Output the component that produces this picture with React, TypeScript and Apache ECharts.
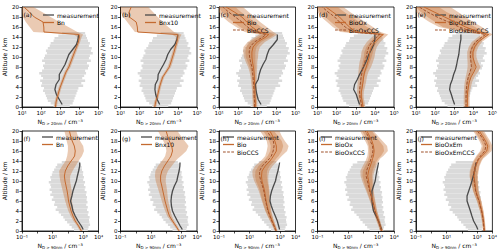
import React, { useEffect, useRef } from "react";
import * as echarts from "echarts";

// ---------- altitude levels (km) ----------
const MODEL_ALT = [0, 1, 2, 3, 4, 5, 6, 7, 8, 9, 10, 11, 12, 13, 14, 14.5, 15, 16, 17, 18, 19, 20];
const MEAS_ALT_TOP = [0.5, 1.5, 2.5, 3.5, 4.5, 5.5, 6.5, 7.5, 8.5, 9.5, 10.5, 11.5, 12.5, 13.5, 14.5];
const MEAS_ALT_BOTTOM = [0.3, 1, 2, 3, 4, 5, 6, 7, 8, 9, 10, 11, 12, 13, 13.7];
const SPREAD_ALT_TOP = [0, 0.5, 1, 1.5, 2, 2.5, 3, 3.5, 4, 4.5, 5, 5.5, 6, 6.5, 7, 7.5, 8, 8.5, 9, 9.5, 10, 10.5, 11, 11.5, 12, 12.5, 13, 13.5, 14, 14.5];
const SPREAD_ALT_BOTTOM = [0, 0.5, 1, 1.5, 2, 2.5, 3, 3.5, 4, 4.5, 5, 5.5, 6, 6.5, 7, 7.5, 8, 8.5, 9, 9.5, 10, 10.5, 11, 11.5, 12, 12.5, 13, 13.5];
const SPREAD_BIN = 0.5;

// ---------- measurement spread (grey) ----------
const SPREAD_TOP_LO = [447, 316, 224, 200, 178, 158, 126, 141, 100, 112, 89.1, 126, 100, 79.4, 112, 141, 126, 158, 112, 141, 158, 200, 178, 224, 282, 316, 447, 501, 794, 1260];
const SPREAD_TOP_HI = [3160, 4470, 5010, 5620, 6310, 7080, 7940, 8910, 15800, 12600, 20000, 14100, 17800, 22400, 20000, 28200, 31600, 25100, 39800, 31600, 35500, 50100, 39800, 44700, 31600, 35500, 28200, 25100, 22400, 20000];
const SPREAD_BOT_LO = [251, 178, 126, 89.1, 63.1, 50.1, 35.5, 25.1, 15.8, 20, 12.6, 14.1, 8.91, 11.2, 7.08, 8.91, 6.31, 7.94, 7.08, 5.62, 7.94, 7.08, 8.91, 10, 12.6, 15.8, 20, 39.8];
const SPREAD_BOT_HI = [2000, 2240, 2820, 2510, 2400, 2630, 2000, 2240, 1780, 2000, 1580, 1910, 1660, 1780, 1510, 1660, 1260, 1410, 1120, 1320, 1000, 1120, 955, 1000, 832, 794, 708, 562];

// ---------- measurement medians ----------
const MEAS_A = [1260, 891, 631, 525, 603, 891, 891, 1260, 1780, 2240, 2820, 4470, 7080, 8510, 9120];
const MEAS_B = [1120, 832, 692, 631, 661, 891, 933, 1260, 1780, 2400, 2950, 4170, 6920, 8910, 10000];
const MEAS_C = [1580, 1120, 955, 851, 794, 1120, 1260, 1510, 2000, 2820, 3310, 4170, 7080, 11200, 11200];
const MEAS_D = [1580, 1290, 1070, 776, 871, 1200, 1580, 2190, 2950, 3890, 4790, 6610, 8710, 10000, 10000];
const MEAS_E = [1050, 851, 708, 575, 631, 794, 933, 1170, 1350, 1510, 1740, 1860, 2000, 2240, 2240];
const MEAS_F = [1000, 759, 457, 302, 214, 182, 148, 182, 214, 275, 355, 417, 501, 589, 589];
const MEAS_G = [1100, 794, 525, 355, 251, 214, 200, 214, 251, 331, 479, 562, 676, 759, 776];
const MEAS_H = [912, 794, 646, 479, 347, 263, 214, 229, 275, 363, 490, 575, 708, 832, 912];
const MEAS_I = [1580, 1260, 977, 676, 457, 398, 363, 355, 363, 457, 589, 661, 759, 891, 977];
const MEAS_J = [1120, 891, 589, 457, 363, 282, 219, 219, 282, 363, 457, 562, 692, 794, 832];

// ---------- model profiles, D > 20 nm ----------
const BN_A = [562, 603, 708, 832, 1000, 1260, 1580, 2000, 2820, 3550, 4470, 5620, 7080, 8910, 10000, 9550, 141, 138, 126, 43.7, 24.5, 12.6];
const BN_A_LO = [468, 501, 589, 692, 832, 1050, 1320, 1660, 2290, 2880, 3630, 4570, 5750, 7240, 7940, 5010, 39.8, 25.1, 15.8, 11.2, 10, 10];
const BN_A_HI = [676, 724, 851, 1000, 1200, 1510, 1910, 2400, 3470, 4370, 5500, 6920, 8710, 10960, 13200, 15800, 7940, 2690, 891, 316, 112, 39.8];

const BNX10_B = [617, 692, 832, 955, 1100, 1320, 1620, 2400, 3550, 4370, 5250, 6310, 7410, 8910, 10000, 9550, 79.4, 75.9, 66.1, 28.8, 28.2, 36.3];
const BNX10_B_LO = [513, 575, 692, 794, 912, 1100, 1350, 2000, 2880, 3550, 4270, 5130, 6030, 7240, 7940, 5010, 56.2, 35.5, 22.4, 14.1, 10, 10];
const BNX10_B_HI = [741, 832, 1000, 1150, 1320, 1580, 1950, 2880, 4370, 5370, 6460, 7760, 9120, 10960, 13200, 15800, 6310, 3160, 1580, 891, 501, 282];

const BIO_C = [794, 794, 759, 759, 741, 724, 708, 676, 631, 562, 525, 525, 603, 1000, 2820, 3980, 1260, 525, 282, 158, 63.1, 23.4];
const BIO_C_LO = [631, 631, 603, 603, 575, 550, 525, 479, 398, 316, 251, 240, 263, 417, 1120, 1780, 355, 126, 56.2, 28.2, 14.1, 10];
const BIO_C_HI = [1000, 1000, 955, 955, 955, 955, 955, 955, 1000, 1000, 1100, 1150, 1380, 2510, 7080, 11200, 7080, 3160, 1410, 708, 355, 178];
const BIOCCS_C = [724, 724, 692, 676, 661, 631, 603, 562, 525, 447, 398, 380, 417, 708, 2000, 2820, 794, 316, 158, 70.8, 31.6, 15.8];
const BIOCCS_C_LO = [575, 575, 550, 537, 513, 479, 447, 398, 331, 251, 200, 182, 191, 316, 794, 1260, 224, 79.4, 31.6, 15.8, 10, 10];
const BIOCCS_C_HI = [912, 912, 871, 851, 851, 832, 813, 794, 832, 794, 794, 794, 912, 1580, 5010, 7940, 3980, 1580, 708, 316, 141, 70.8];

const BIOOX_D = [2400, 2190, 1950, 1950, 2190, 2400, 2570, 2880, 3550, 4270, 5010, 5370, 6610, 10000, 18200, 27500, 1070, 468, 251, 141, 63.1, 27.5];
const BIOOX_D_LO = [1820, 1660, 1480, 1450, 1580, 1660, 1740, 1820, 2000, 2290, 2630, 2820, 3550, 5620, 10000, 15800, 251, 100, 50.1, 25.1, 12.6, 10];
const BIOOX_D_HI = [3160, 2880, 2570, 2630, 3020, 3470, 3800, 4570, 6310, 7940, 9550, 10500, 12600, 19100, 35500, 50100, 20000, 7940, 3160, 1260, 501, 224];
const BIOOXCCS_D = [2090, 1860, 1660, 1580, 1660, 1780, 1910, 2140, 2510, 2950, 3550, 3980, 4790, 7080, 12600, 17800, 708, 282, 141, 79.4, 35.5, 17.8];
const BIOOXCCS_D_LO = [1580, 1410, 1260, 1170, 1200, 1260, 1320, 1380, 1450, 1580, 1860, 2000, 2510, 3800, 7080, 10000, 158, 63.1, 31.6, 15.8, 10, 10];
const BIOOXCCS_D_HI = [2750, 2450, 2190, 2140, 2290, 2510, 2750, 3310, 4370, 5500, 6760, 7940, 9120, 13200, 22400, 31600, 11200, 3980, 1580, 631, 251, 112];

const BIOOXEM_E = [4900, 4900, 4900, 5010, 5500, 6170, 7590, 10700, 14100, 11200, 9550, 9550, 11700, 17800, 39800, 63100, 20000, 3980, 1120, 316, 89.1, 26.3];
const BIOOXEM_E_LO = [3720, 3720, 3720, 3800, 3980, 4370, 5010, 6610, 8320, 7080, 6310, 6310, 7590, 11200, 25100, 35500, 3980, 251, 100, 39.8, 17.8, 10];
const BIOOXEM_E_HI = [6460, 6460, 6460, 6610, 7590, 8710, 11500, 17400, 24000, 17800, 14500, 14500, 18200, 28200, 63100, 100000, 63100, 28200, 10000, 3980, 1580, 631];
const BIOOXEMCCS_E = [4170, 4170, 4170, 4270, 4470, 4790, 5500, 6760, 7940, 7590, 7080, 7240, 8910, 13200, 28200, 44700, 10000, 1860, 501, 126, 39.8, 14.8];
const BIOOXEMCCS_E_LO = [3160, 3160, 3160, 3240, 3310, 3550, 3980, 4570, 5010, 5010, 4790, 4790, 5750, 8320, 17800, 26300, 2510, 158, 50.1, 20, 10, 10];
const BIOOXEMCCS_E_HI = [5500, 5500, 5500, 5620, 6030, 6460, 7590, 10000, 12600, 11500, 10500, 11000, 13800, 20900, 44700, 70800, 35500, 12600, 3980, 1260, 398, 158];

// ---------- model profiles, D > 90 nm ----------
const BN_F = [759, 501, 302, 214, 162, 132, 110, 100, 89.1, 75.9, 64.6, 58.9, 67.6, 97.7, 162, 214, 275, 302, 263, 191, 151, 126];
const BN_F_LO = [603, 398, 229, 151, 107, 83.2, 66.1, 55, 45.7, 38, 31.6, 28.2, 26.9, 41.7, 70.8, 79.4, 89.1, 100, 100, 83.2, 70.8, 58.9];
const BN_F_HI = [955, 631, 398, 302, 240, 209, 182, 182, 178, 158, 138, 141, 200, 316, 501, 631, 832, 1120, 1000, 631, 447, 355];

const BNX10_G = [676, 417, 251, 158, 123, 100, 81.3, 69.2, 58.9, 50.1, 41.7, 41.7, 50.1, 74.1, 123, 158, 200, 251, 224, 155, 120, 95.5];
const BNX10_G_LO = [562, 331, 191, 112, 83.2, 63.1, 50.1, 39.8, 31.6, 25.1, 20, 17.8, 19.1, 28.2, 50.1, 66.1, 83.2, 100, 89.1, 63.1, 41.7, 28.2];
const BNX10_G_HI = [813, 525, 331, 229, 186, 158, 132, 120, 112, 100, 89.1, 95.5, 126, 224, 398, 562, 891, 2000, 2820, 1580, 891, 525];

const BIO_H = [562, 417, 302, 224, 170, 141, 120, 107, 95.5, 79.4, 64.6, 60.3, 64.6, 105, 214, 282, 363, 562, 562, 447, 316, 214];
const BIO_H_LO = [468, 331, 229, 158, 112, 87.1, 69.2, 57.5, 47.9, 36.3, 26.3, 22.9, 24, 38, 83.2, 112, 151, 224, 240, 191, 126, 79.4];
const BIO_H_HI = [676, 525, 398, 316, 263, 240, 219, 209, 200, 182, 166, 166, 191, 316, 631, 891, 1260, 2820, 3550, 2000, 1260, 891];
const BIOCCS_H = [525, 389, 282, 209, 158, 132, 112, 97.7, 85.1, 69.2, 53.7, 45.7, 44.7, 66.1, 141, 200, 263, 347, 398, 355, 224, 135];
const BIOCCS_H_LO = [437, 309, 214, 148, 105, 81.3, 63.1, 50.1, 39.8, 28.8, 20, 15.8, 15.1, 22.9, 52.5, 75.9, 105, 132, 151, 132, 79.4, 47.9];
const BIOCCS_H_HI = [631, 490, 372, 295, 240, 214, 200, 191, 182, 166, 145, 132, 138, 200, 417, 562, 794, 1260, 1580, 1260, 708, 398];

const BIOOX_I = [1580, 1260, 977, 759, 589, 501, 417, 339, 282, 245, 219, 191, 219, 282, 363, 398, 457, 501, 457, 363, 251, 170];
const BIOOX_I_LO = [1260, 1000, 759, 575, 437, 363, 288, 224, 174, 132, 105, 87.1, 91.2, 132, 191, 214, 240, 251, 229, 182, 126, 83.2];
const BIOOX_I_HI = [2000, 1580, 1260, 1000, 794, 692, 603, 525, 479, 457, 457, 437, 525, 708, 1000, 1260, 2000, 3980, 3550, 1780, 891, 447];
const BIOOXCCS_I = [1510, 1200, 933, 724, 562, 468, 389, 316, 257, 214, 182, 151, 158, 209, 282, 316, 363, 417, 398, 282, 200, 132];
const BIOOXCCS_I_LO = [1200, 955, 724, 550, 417, 339, 263, 200, 151, 110, 83.2, 66.1, 63.1, 91.2, 138, 158, 182, 200, 191, 132, 89.1, 60.3];
const BIOOXCCS_I_HI = [1910, 1510, 1200, 955, 759, 646, 562, 479, 427, 398, 380, 355, 398, 525, 759, 955, 1410, 2240, 2000, 1120, 631, 355];

const BIOOXEM_J = [3020, 2820, 2630, 2340, 2040, 1660, 1380, 1050, 832, 759, 692, 631, 692, 832, 1120, 1410, 2000, 4270, 5010, 3550, 2240, 1380];
const BIOOXEM_J_LO = [2510, 2340, 2140, 1860, 1580, 1260, 1000, 741, 562, 479, 398, 347, 380, 479, 631, 794, 1000, 2000, 2510, 1780, 1120, 708];
const BIOOXEM_J_HI = [3630, 3470, 3240, 2950, 2630, 2240, 1910, 1510, 1260, 1200, 1150, 1120, 1260, 1450, 2000, 2510, 3980, 8910, 10000, 7080, 4470, 2820];
const BIOOXEMCCS_J = [2880, 2690, 2510, 2240, 1950, 1580, 1320, 1000, 794, 708, 631, 575, 631, 759, 1000, 1260, 1660, 3160, 3800, 2820, 1780, 1050];
const BIOOXEMCCS_J_LO = [2400, 2240, 2040, 1780, 1510, 1200, 955, 708, 537, 447, 363, 316, 331, 417, 550, 692, 871, 1580, 2000, 1410, 891, 550];
const BIOOXEMCCS_J_HI = [3470, 3310, 3090, 2820, 2510, 2140, 1820, 1450, 1200, 1120, 1050, 1000, 1150, 1320, 1780, 2240, 3160, 6310, 7080, 5250, 3550, 2090];

// ---------- axes ----------
const TOP_TICK_EXP = [1, 2, 3, 4, 5];
const BOTTOM_TICK_EXP = [-1, 1, 3, 4];
const ALT_TICKS = [0, 2, 4, 6, 8, 10, 12, 14, 16, 18, 20];
const X_NAME_TOP = "N{s|D > 20nm} / cm⁻³";
const X_NAME_BOTTOM = "N{s|D > 90nm} / cm⁻³";
const Y_NAME = "Altitude / km";

type Model = { name: string; v: number[]; lo: number[]; hi: number[]; dashed: boolean };
type Panel = { letter: string; row: number; col: number; meas: number[]; models: Model[] };

const PANELS: Panel[] = [
  { letter: "(a)", row: 0, col: 0, meas: MEAS_A, models: [{ name: "Bn", v: BN_A, lo: BN_A_LO, hi: BN_A_HI, dashed: false }] },
  { letter: "(b)", row: 0, col: 1, meas: MEAS_B, models: [{ name: "Bnx10", v: BNX10_B, lo: BNX10_B_LO, hi: BNX10_B_HI, dashed: false }] },
  { letter: "(c)", row: 0, col: 2, meas: MEAS_C, models: [
    { name: "Bio", v: BIO_C, lo: BIO_C_LO, hi: BIO_C_HI, dashed: false },
    { name: "BioCCS", v: BIOCCS_C, lo: BIOCCS_C_LO, hi: BIOCCS_C_HI, dashed: true }] },
  { letter: "(d)", row: 0, col: 3, meas: MEAS_D, models: [
    { name: "BioOx", v: BIOOX_D, lo: BIOOX_D_LO, hi: BIOOX_D_HI, dashed: false },
    { name: "BioOxCCS", v: BIOOXCCS_D, lo: BIOOXCCS_D_LO, hi: BIOOXCCS_D_HI, dashed: true }] },
  { letter: "(e)", row: 0, col: 4, meas: MEAS_E, models: [
    { name: "BioOxEm", v: BIOOXEM_E, lo: BIOOXEM_E_LO, hi: BIOOXEM_E_HI, dashed: false },
    { name: "BioOxEmCCS", v: BIOOXEMCCS_E, lo: BIOOXEMCCS_E_LO, hi: BIOOXEMCCS_E_HI, dashed: true }] },
  { letter: "(f)", row: 1, col: 0, meas: MEAS_F, models: [{ name: "Bn", v: BN_F, lo: BN_F_LO, hi: BN_F_HI, dashed: false }] },
  { letter: "(g)", row: 1, col: 1, meas: MEAS_G, models: [{ name: "Bnx10", v: BNX10_G, lo: BNX10_G_LO, hi: BNX10_G_HI, dashed: false }] },
  { letter: "(h)", row: 1, col: 2, meas: MEAS_H, models: [
    { name: "Bio", v: BIO_H, lo: BIO_H_LO, hi: BIO_H_HI, dashed: false },
    { name: "BioCCS", v: BIOCCS_H, lo: BIOCCS_H_LO, hi: BIOCCS_H_HI, dashed: true }] },
  { letter: "(i)", row: 1, col: 3, meas: MEAS_I, models: [
    { name: "BioOx", v: BIOOX_I, lo: BIOOX_I_LO, hi: BIOOX_I_HI, dashed: false },
    { name: "BioOxCCS", v: BIOOXCCS_I, lo: BIOOXCCS_I_LO, hi: BIOOXCCS_I_HI, dashed: true }] },
  { letter: "(j)", row: 1, col: 4, meas: MEAS_J, models: [
    { name: "BioOxEm", v: BIOOXEM_J, lo: BIOOXEM_J_LO, hi: BIOOXEM_J_HI, dashed: false },
    { name: "BioOxEmCCS", v: BIOOXEMCCS_J, lo: BIOOXEMCCS_J_LO, hi: BIOOXEMCCS_J_HI, dashed: true }] },
];

// ---------- layout & style ----------
const COL_LEFT = [22, 120.5, 219, 317.5, 416];
const ROW_TOP = [7, 131];
const GRID_W = 76.5;
const GRID_H = 100;
const LEGEND_POS = [
  [43, 12], [145, 12], [233, 12], [335, 12], [435, 12],
  [42, 134], [141, 134], [223, 134], [321, 134], [421, 134],
];
const FONT = "DejaVu Sans";
const MEAS_COLOR = "#4a4a4a";
const SPREAD_COLOR = "#dadada";
const MODEL_COLOR = "#c46a30";
const CCS_COLOR = "#a0522d";
const BAND_FILL = "rgba(200,115,55,0.38)";
const LINE_ICON = "rect";
const DASH_ICON = "path://M0,0h3v1h-3z M4.5,0h3v1h-3z M9,0h3v1h-3z";

const SUP: Record<string, string> = { "-": "⁻", "0": "⁰", "1": "¹", "2": "²", "3": "³", "4": "⁴", "5": "⁵", "6": "⁶", "7": "⁷", "8": "⁸", "9": "⁹" };
const pow10Label = (e: number) => "10" + String(e).split("").map((c) => SUP[c]).join("");

function buildOption() {
  const grid: any[] = [];
  const xAxis: any[] = [];
  const yAxis: any[] = [];
  const series: any[] = [];
  const legend: any[] = [];
  const graphic: any[] = [];

  PANELS.forEach((p, i) => {
    const left = COL_LEFT[p.col];
    const top = ROW_TOP[p.row];
    const isTop = p.row === 0;
    const tickExp = isTop ? TOP_TICK_EXP : BOTTOM_TICK_EXP;
    grid.push({ left, top, width: GRID_W, height: GRID_H, show: true, borderColor: "#000", borderWidth: 0.8 });
    xAxis.push({
      type: "log", gridIndex: i, logBase: 10,
      min: Math.pow(10, tickExp[0]), max: Math.pow(10, tickExp[tickExp.length - 1]),
      axisLine: { show: true, lineStyle: { color: "#000", width: 0.8 } },
      axisTick: { show: true, length: 2.5, lineStyle: { color: "#000", width: 0.7 } },
      splitLine: { show: false },
      axisLabel: {
        fontSize: 5.5, fontFamily: FONT, color: "#000", margin: 2.5,
        formatter: (v: number) => {
          const e = Math.round(Math.log10(v));
          return tickExp.indexOf(e) >= 0 ? pow10Label(e) : "";
        },
      },
      name: isTop ? X_NAME_TOP : X_NAME_BOTTOM,
      nameLocation: "middle", nameGap: 11,
      nameTextStyle: {
        fontSize: 6, fontFamily: FONT, color: "#000",
        rich: { s: { fontSize: 4, fontFamily: FONT, color: "#000", verticalAlign: "bottom", padding: [3, 0, 0, 0] } },
      },
    });
    yAxis.push({
      type: "value", gridIndex: i, min: ALT_TICKS[0], max: ALT_TICKS[ALT_TICKS.length - 1], interval: ALT_TICKS[1] - ALT_TICKS[0],
      axisLine: { show: true, lineStyle: { color: "#000", width: 0.8 } },
      axisTick: { show: true, length: 2.5, lineStyle: { color: "#000", width: 0.7 } },
      splitLine: { show: false },
      axisLabel: { fontSize: 5.5, fontFamily: FONT, color: "#000", margin: 3 },
      name: Y_NAME, nameLocation: "middle", nameGap: 15,
      nameTextStyle: { fontSize: 6, fontFamily: FONT, color: "#000" },
    });

    // grey measurement spread
    const sAlt = isTop ? SPREAD_ALT_TOP : SPREAD_ALT_BOTTOM;
    const sLo = isTop ? SPREAD_TOP_LO : SPREAD_BOT_LO;
    const sHi = isTop ? SPREAD_TOP_HI : SPREAD_BOT_HI;
    series.push({
      type: "custom", name: "spread" + i, xAxisIndex: i, yAxisIndex: i, z: 1, clip: true, silent: true,
      data: sAlt.map((a, k) => [sLo[k], sHi[k], a, a + SPREAD_BIN]),
      encode: { x: [0, 1], y: [2, 3] },
      renderItem: (_params: any, api: any) => {
        const p1 = api.coord([api.value(0), api.value(3)]);
        const p2 = api.coord([api.value(1), api.value(2)]);
        return { type: "rect", shape: { x: p1[0], y: p1[1], width: p2[0] - p1[0], height: p2[1] - p1[1] }, style: { fill: SPREAD_COLOR } };
      },
    });

    // model uncertainty bands
    p.models.forEach((m, mi) => {
      series.push({
        type: "custom", name: "band" + i + "_" + mi, xAxisIndex: i, yAxisIndex: i, z: 2, clip: true, silent: true,
        data: MODEL_ALT.map((a, k) => [m.lo[k], m.hi[k], a]),
        encode: { x: [0, 1], y: 2 },
        renderItem: (params: any, api: any) => {
          if (params.dataIndex !== 0) return null;
          const pts: number[][] = [];
          for (let k = 0; k < MODEL_ALT.length; k++) pts.push(api.coord([m.hi[k], MODEL_ALT[k]]));
          for (let k = MODEL_ALT.length - 1; k >= 0; k--) pts.push(api.coord([m.lo[k], MODEL_ALT[k]]));
          return { type: "polygon", shape: { points: pts }, style: { fill: BAND_FILL } };
        },
      });
    });

    // measurement median
    const mAlt = isTop ? MEAS_ALT_TOP : MEAS_ALT_BOTTOM;
    series.push({
      type: "line", name: "measurement", xAxisIndex: i, yAxisIndex: i, z: 3,
      data: mAlt.map((a, k) => [p.meas[k], a]),
      symbol: "none", lineStyle: { color: MEAS_COLOR, width: 1.3 }, itemStyle: { color: MEAS_COLOR },
    });

    // model lines
    p.models.forEach((m) => {
      const c = m.dashed ? CCS_COLOR : MODEL_COLOR;
      series.push({
        type: "line", name: m.name, xAxisIndex: i, yAxisIndex: i, z: 4,
        data: MODEL_ALT.map((a, k) => [m.v[k], a]),
        symbol: "none",
        lineStyle: { color: c, width: 1, type: m.dashed ? [3, 1.5] : "solid" },
        itemStyle: { color: c },
      });
    });

    legend.push({
      left: LEGEND_POS[i][0], top: LEGEND_POS[i][1], orient: "vertical",
      itemWidth: 11, itemHeight: 1.3, itemGap: 1.5, padding: 0, selectedMode: false,
      textStyle: { fontSize: 6, fontFamily: FONT, color: "#000", padding: [0, 0, 0, -2] },
      data: [
        { name: "measurement", icon: LINE_ICON },
        ...p.models.map((m) => ({ name: m.name, icon: m.dashed ? DASH_ICON : LINE_ICON })),
      ],
    });

    graphic.push({
      type: "text", left: left + 1.5, top: top + 4, z: 10,
      style: { text: p.letter, fontSize: 6, fontFamily: FONT, fill: "#000" },
    });
  });

  return { animation: false, backgroundColor: "#fff", grid, xAxis, yAxis, series, legend, graphic };
}

export default function App() {
  const ref = useRef<HTMLDivElement>(null);
  useEffect(() => {
    if (!ref.current) return;
    const chart = echarts.init(ref.current, undefined, { renderer: "svg" });
    chart.setOption(buildOption() as any);
    return () => chart.dispose();
  }, []);
  return <div ref={ref} style={{ position: "absolute", left: 0, top: 0, width: 500, height: 251 }} />;
}
